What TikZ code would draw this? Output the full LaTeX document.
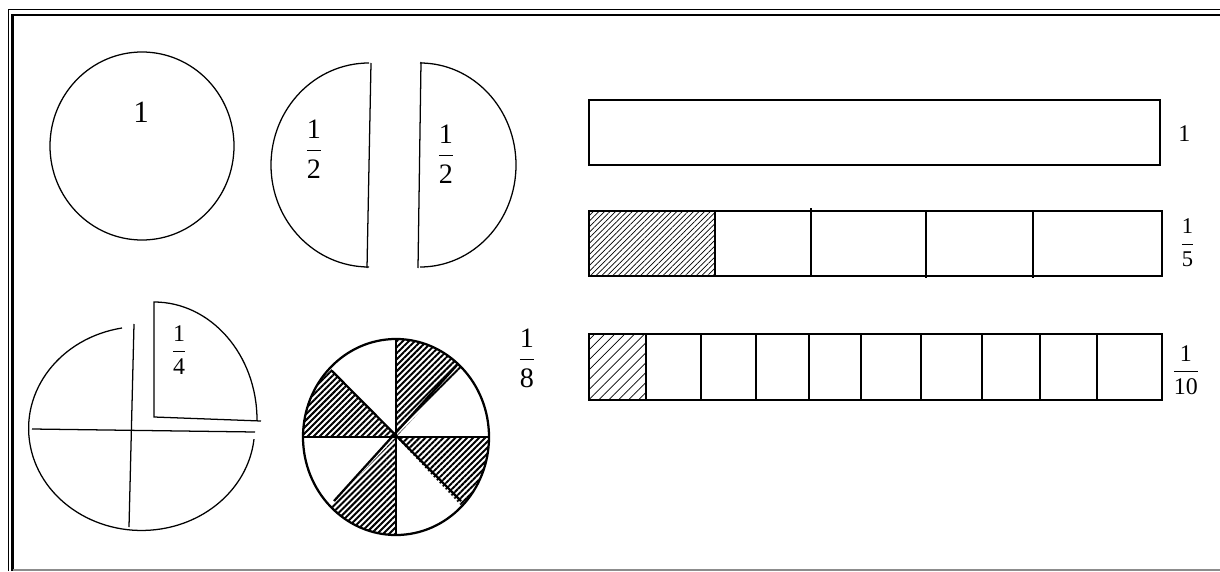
\documentclass[tikz,border=0pt]{standalone}
\usepackage{amsmath}
\usepackage{fontspec}
\setmainfont{Liberation Serif}
\usetikzlibrary{patterns.meta, positioning}

\tikzset{
  shape line/.style={line width=0.9pt},
  pie line/.style={line width=1.6pt},
  bar line/.style={line width=1pt},
  pie hatch/.style={pattern={Lines[angle=45,distance=3pt,line width=1.4pt]}},
  bar hatch/.style={pattern={Lines[angle=45,distance=#1,line width=0.5pt]}},
  label size/.style={inner sep=0pt, font=\fontsize{#1}{#1}\selectfont},
}
\newcommand{\frc}[2]{$\dfrac{\text{#1}}{\text{#2}}$}

\begin{document}
\begin{tikzpicture}[x=0.025cm, y=-0.025cm]
  \useasboundingbox (0,0) rectangle (1220,571);
  % frame
  \draw[line width=0.8pt] (8.5,571) -- (8.5,9.5) -- (1220,9.5);
  \draw[line width=2pt] (12.5,571) -- (12.5,15) -- (1220,15);
  \draw[line width=0.8pt, black!45] (12.5,570) -- (1220,570);

  % whole
  \draw[shape line] (142,146) ellipse [x radius=92, y radius=94];
  \node[label size=22] (one) at (141,112) {1};

  % halves
  \draw[shape line] (369,63) arc[start angle=270, end angle=90, x radius=98, y radius=102];
  \draw[shape line] (371,63) -- (367,268);
  \draw[shape line] (420,63) arc[start angle=-90, end angle=90, x radius=96, y radius=102];
  \draw[shape line] (421,62) -- (418,268);
  \node[label size=20] (halfL) at (314,149) {\frc{1}{2}};
  \node[label size=20] (halfR) at (446,154) {\frc{1}{2}};

  % quarters
  \draw[shape line] (122,328) arc[start angle=260, end angle=6, x radius=113, y radius=102];
  \draw[shape line] (32,429) -- (255,432);
  \draw[shape line] (134,324) -- (129,527);
  \draw[shape line] (261,421) -- (154,417) -- (154,302)
    arc[start angle=270, end angle=360, x radius=103, y radius=118];
  \node[label size=17] (quarter) at (179,350) {\frc{1}{4}};

  % eighths
  \coordinate (pc) at (396,437);
  \foreach \a in {-90,0,90,180}
    \path[pie hatch] (pc) -- ++({93*cos(\a)},{98*sin(\a)})
      arc[start angle=\a, end angle=\a+45, x radius=93, y radius=98] -- cycle;
  \draw[pie line] (pc) ellipse [x radius=93, y radius=98];
  \draw[pie line] (303,437) -- (489,437);
  \draw[pie line] (396,339) -- (396,535);
  \draw[pie line] (334,501) -- (457,365);
  \draw[pie line] (332,371) -- (461,501);
  \node[label size=20] (eighth) at (527,358) {\frc{1}{8}};

  % bars
  \draw[bar line] (589,100) rectangle (1160,165);
  \coordinate (wholeEnd) at (1160,134);
  \node[label size=17, right=0.45cm of wholeEnd] (barOne) {1};

  \path[bar hatch=2.8pt] (589,211) rectangle (715,276);
  \draw[bar line] (589,211) rectangle (1162,276);
  \draw[bar line] (715,211) -- (715,276);
  \draw[bar line] (811,208) -- (811,276);
  \draw[bar line] (926,211) -- (926,278);
  \draw[bar line] (1033,211) -- (1033,278);
  \coordinate (fifthEnd) at (1162,243);
  \node[label size=16, right=0.45cm of fifthEnd] (barFifth) {\frc{1}{5}};

  \path[bar hatch=5pt] (589,334) rectangle (646,400);
  \draw[bar line] (589,334) rectangle (1162,400);
  \foreach \x in {701,756,809,861,921,982,1040,1097}
    \draw[bar line] (\x,334) -- (\x,400);
  \draw[line width=1.8pt] (589,334) rectangle (646,400);
  \coordinate (tenthEnd) at (1162,370);
  \node[label size=17, right=0.25cm of tenthEnd] (barTenth) {\frc{1}{10}};
\end{tikzpicture}
\end{document}
